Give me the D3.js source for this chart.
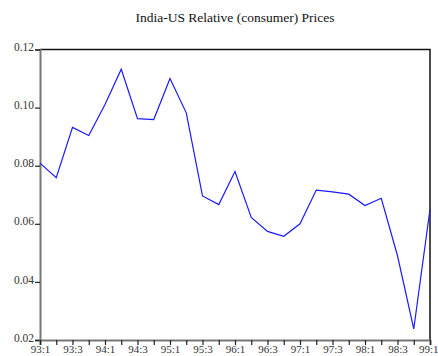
<!DOCTYPE html>
<html>
<head>
<meta charset="utf-8">
<script src="https://cdn.jsdelivr.net/npm/d3@7/dist/d3.min.js"></script>
<style>
  html, body { margin: 0; padding: 0; background: #fff; }
  svg { display: block; }
  text { font-family: "Liberation Serif", "Times New Roman", serif; }
</style>
</head>
<body>
<svg id="chart" width="438" height="356"></svg>
<script>
// Quarterly India-US relative consumer price ratio, 1993:1 - 1999:1
const quarters = [
  "93:1","93:2","93:3","93:4","94:1","94:2","94:3","94:4",
  "95:1","95:2","95:3","95:4","96:1","96:2","96:3","96:4",
  "97:1","97:2","97:3","97:4","98:1","98:2","98:3","98:4","99:1"
];
const relPrice = [
  0.0809, 0.0759, 0.0932, 0.0904, 0.1011, 0.1132, 0.0962, 0.0959,
  0.1100, 0.0982, 0.0696, 0.0666, 0.0780, 0.0622, 0.0574, 0.0557,
  0.0600, 0.0716, 0.0710, 0.0702, 0.0663, 0.0688, 0.0490, 0.0238, 0.0650
];
const yTicks = [0.02, 0.04, 0.06, 0.08, 0.10, 0.12];
const xLabels = ["93:1","93:3","94:1","94:3","95:1","95:3","96:1","96:3","97:1","97:3","98:1","98:3","99:1"];
const title = "India-US Relative (consumer) Prices";

const svg = d3.select("#chart");
const m = { left: 40, right: 430, top: 49.5, bottom: 340 };

const x = d3.scalePoint().domain(quarters).range([m.left, m.right]);
const y = d3.scaleLinear().domain([0.02, 0.12]).range([m.bottom, m.top]);

// title
svg.append("text")
  .attr("x", (m.left + m.right) / 2)
  .attr("y", 22)
  .attr("text-anchor", "middle")
  .attr("font-size", 13.5)
  .attr("fill", "#111")
  .text(title);

// frame: top and right in black
svg.append("path")
  .attr("d", `M${m.left},${m.top}H${m.right}V${m.bottom}`)
  .attr("fill", "none")
  .attr("stroke", "#111")
  .attr("stroke-width", 1.5);

// left axis
const yAxis = d3.axisLeft(y).tickValues(yTicks).tickFormat(d3.format(".2f")).tickSize(5).tickPadding(1);
const gy = svg.append("g").attr("transform", `translate(${m.left},0)`).call(yAxis);
gy.select(".domain").attr("stroke", "#777").attr("stroke-width", 2);
gy.selectAll(".tick line").attr("stroke", "#222").attr("stroke-width", 1.2);
gy.selectAll(".tick text")
  .attr("font-family", "Liberation Serif, Times New Roman, serif")
  .attr("font-size", 11.5).attr("fill", "#333").attr("dy", "0.1em");

// bottom axis: a tick every quarter, labels every half year
const xAxis = d3.axisBottom(x).tickValues(quarters).tickSize(5)
  .tickFormat(d => xLabels.includes(d) ? d : "");
const gx = svg.append("g").attr("transform", `translate(0,${m.bottom})`).call(xAxis);
gx.select(".domain").attr("stroke", "#777").attr("stroke-width", 2);
gx.selectAll(".tick line").attr("stroke", "#222").attr("stroke-width", 1.2);
gx.selectAll(".tick text")
  .attr("font-family", "Liberation Serif, Times New Roman, serif")
  .attr("font-size", 11).attr("fill", "#333")
  .attr("y", 13).attr("dy", 0);
// keep the last label inside the window
gx.selectAll(".tick text").filter(d => d === "99:1").attr("text-anchor", "end").attr("dx", 8);

// series line
const line = d3.line().x((d, i) => x(quarters[i])).y(d => y(d));
svg.append("path")
  .datum(relPrice)
  .attr("d", line)
  .attr("fill", "none")
  .attr("stroke", "#1a1aff")
  .attr("stroke-width", 1.2);
</script>
</body>
</html>
